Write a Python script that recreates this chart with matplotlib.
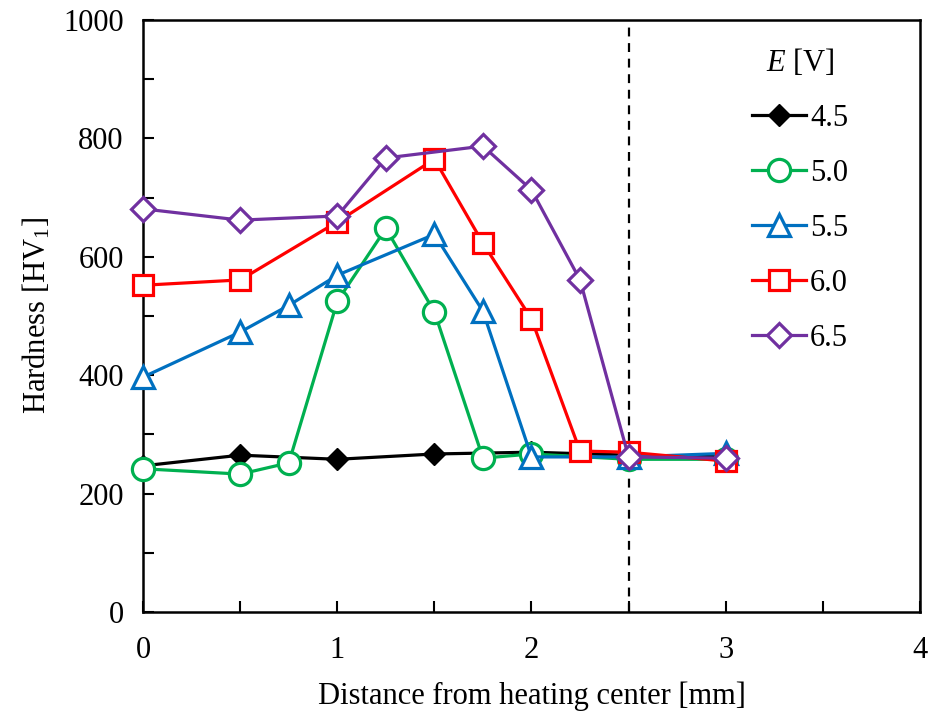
import matplotlib
matplotlib.use("Agg")
import matplotlib.pyplot as plt
from matplotlib.ticker import MultipleLocator

plt.rcParams['font.family'] = ['Liberation Serif', 'DejaVu Serif']
plt.rcParams['mathtext.fontset'] = 'custom'
plt.rcParams['mathtext.rm'] = 'Liberation Serif'
plt.rcParams['mathtext.it'] = 'Liberation Serif:italic'

# Data
x_45 = [0, 0.5, 1.0, 1.5, 2.0, 2.5, 3.0]
y_45 = [247, 265, 258, 267, 270, 265, 262]
x_50 = [0, 0.5, 0.75, 1.0, 1.25, 1.5, 1.75, 2.0, 2.5, 3.0]
y_50 = [242, 233, 252, 525, 648, 507, 260, 267, 258, 258]
x_55 = [0, 0.5, 0.75, 1.0, 1.5, 1.75, 2.0, 2.5, 3.0]
y_55 = [397, 473, 518, 569, 638, 508, 262, 262, 268]
x_60 = [0, 0.5, 1.0, 1.5, 1.75, 2.0, 2.25, 2.5, 3.0]
y_60 = [552, 561, 659, 765, 623, 495, 272, 270, 255]
x_65 = [0, 0.5, 1.0, 1.25, 1.75, 2.0, 2.25, 2.5, 3.0]
y_65 = [681, 662, 669, 767, 787, 713, 561, 262, 260]
labels = ['4.5', '5.0', '5.5', '6.0', '6.5']
boundary_x = 2.5

fig = plt.figure(figsize=(9.3, 7.15), dpi=100)
ax = fig.add_axes([0.154, 0.144, 0.835, 0.828])

lw = 2.3
kw = dict(lw=lw, clip_on=False)
ax.plot(x_45, y_45, color='black', marker='D', ms=11, mfc='black', mec='black', label=labels[0], zorder=3, **kw)
ax.plot(x_50, y_50, color='#00B050', marker='o', ms=16, mfc='white', mec='#00B050', mew=2.3, label=labels[1], zorder=4, **kw)
ax.plot(x_55, y_55, color='#0070C0', marker='^', ms=16, mfc='white', mec='#0070C0', mew=2.3, label=labels[2], zorder=5, **kw)
ax.plot(x_60, y_60, color='#FF0000', marker='s', ms=15, mfc='white', mec='#FF0000', mew=2.3, label=labels[3], zorder=6, **kw)
ax.plot(x_65, y_65, color='#7030A0', marker='D', ms=12, mfc='white', mec='#7030A0', mew=2.3, label=labels[4], zorder=7, **kw)

ax.axvline(boundary_x, color='black', lw=1.6, ls=(0, (4, 3)), zorder=2)

ax.set_xlim(0, 4)
ax.set_ylim(0, 1000)
ax.xaxis.set_major_locator(MultipleLocator(1))
ax.xaxis.set_minor_locator(MultipleLocator(0.5))
ax.yaxis.set_major_locator(MultipleLocator(200))
ax.yaxis.set_minor_locator(MultipleLocator(100))
ax.tick_params(which='both', direction='in', labelsize=22, width=1.5, top=False, right=False)
ax.tick_params(which='major', length=8)
ax.tick_params(axis='x', which='major', pad=17)
ax.tick_params(axis='y', which='major', pad=14)
ax.tick_params(which='minor', length=8)
for s in ax.spines.values():
    s.set_linewidth(1.8)

ax.set_xlabel('Distance from heating center [mm]', fontsize=22, labelpad=12)
ax.set_ylabel('Hardness [HV$_1$]', fontsize=22, labelpad=8)

leg = ax.legend(title='$E$ [V]', loc='upper right', frameon=False, fontsize=22,
                title_fontsize=22, handlelength=1.75, handletextpad=0.15,
                labelspacing=0.85, borderpad=0, borderaxespad=0,
                bbox_to_anchor=(0.908, 0.955))

fig.savefig('out.png', dpi=100)
